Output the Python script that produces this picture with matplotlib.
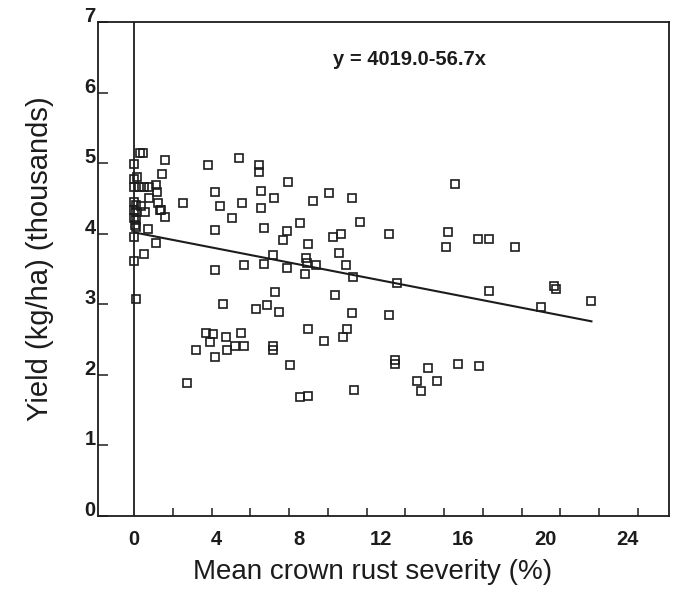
import matplotlib
matplotlib.use("Agg")
import matplotlib.pyplot as plt
import numpy as np

plt.rcParams['font.family'] = ['Liberation Sans', 'DejaVu Sans']

# mean crown rust severity (%) and yield (thousands kg/ha)
severity = [0.27, 0.41, 1.52, 0.00, 3.61, 5.10, 1.37, 0.14, 0.00, 0.00,
            0.23, 0.48, 0.72, 1.05, 3.92, 1.13, 0.72, 1.16, 2.37, 5.25,
            4.19, 0.00, 0.11, 0.35, 0.00, 0.11, 0.51, 1.24, 1.32, 1.50,
            4.78, 0.00, 0.07, 0.02, 0.11, 0.67, 3.92, 0.00, 1.08, 0.46,
            0.00, 3.92, 5.33, 0.11, 4.32, 3.48, 3.83, 4.49, 5.22, 3.71,
            2.99, 3.92, 4.54, 4.89, 5.33, 2.57, 6.07, 6.07, 7.50, 6.17,
            9.46, 6.80, 6.19, 8.70, 10.60, 6.29, 8.05, 7.41, 7.24, 10.97,
            9.67, 10.05, 12.38, 8.43, 6.75, 6.29, 7.41, 8.35, 8.41, 8.83,
            8.31, 9.95, 10.31, 10.62, 12.76, 6.84, 9.76, 5.91, 6.46, 7.05,
            10.60, 12.40, 8.44, 10.33, 10.16, 9.22, 6.75, 6.75, 12.68, 12.68,
            7.60, 8.05, 8.43, 10.70, 15.60, 15.24, 15.14, 16.73, 17.25, 18.53,
            17.24, 19.78, 20.41, 20.50, 22.23, 14.30, 13.73, 14.71, 13.93, 15.74,
            16.76]
yield_k = [5.14, 5.15, 5.05, 4.99, 4.98, 5.07, 4.84, 4.81, 4.77, 4.66,
           4.66, 4.66, 4.66, 4.69, 4.59, 4.59, 4.50, 4.43, 4.44, 4.44,
           4.39, 4.45, 4.41, 4.39, 4.33, 4.31, 4.31, 4.34, 4.33, 4.23,
           4.22, 4.22, 4.19, 4.12, 4.09, 4.06, 4.05, 3.96, 3.87, 3.71,
           3.61, 3.48, 3.56, 3.07, 3.01, 2.60, 2.58, 2.54, 2.60, 2.46,
           2.35, 2.25, 2.35, 2.41, 2.41, 1.89, 4.98, 4.87, 4.73, 4.61,
           4.57, 4.50, 4.36, 4.46, 4.51, 4.08, 4.15, 4.04, 3.91, 4.16,
           3.96, 3.99, 4.00, 3.85, 3.70, 3.57, 3.52, 3.66, 3.59, 3.56,
           3.43, 3.72, 3.55, 3.38, 3.30, 3.18, 3.13, 2.93, 2.99, 2.89,
           2.87, 2.85, 2.65, 2.65, 2.54, 2.48, 2.41, 2.35, 2.21, 2.16,
           2.14, 1.68, 1.70, 1.78, 4.70, 4.03, 3.81, 3.92, 3.93, 3.81,
           3.19, 2.96, 3.26, 3.22, 3.05, 2.10, 1.92, 1.91, 1.77, 2.16,
           2.12]

intercept = 4019.0
slope = -56.7
x_ticklabels = [0, 4, 8, 12, 16, 20, 24]
y_ticklabels = [0, 1, 2, 3, 4, 5, 6, 7]

ink = '#1c1c1c'

fig = plt.figure(figsize=(6.77, 5.90), dpi=100)
ax = fig.add_axes([98.3 / 677, 1 - 516 / 590, 570.7 / 677, 494 / 590])

ax.plot(severity, yield_k, linestyle='none', marker='s', markersize=6.3,
        markerfacecolor='none', markeredgecolor=ink, markeredgewidth=1.2)

xfit = np.array([0, max(severity)])
ax.plot(xfit, (intercept + slope * xfit) / 1000, color=ink, lw=1.5)
ax.axvline(0, color=ink, lw=1.3)

ax.set_xlim(-1.74, 26.0)
ax.set_ylim(0, 7)

for s in ax.spines.values():
    s.set_color(ink)
    s.set_linewidth(1.3)

ax.set_xticks(x_ticklabels)
ax.set_xticklabels([str(v) for v in x_ticklabels], fontsize=14.5, fontweight='bold')
ax.set_xticks(np.arange(1, 14) * 1.884, minor=True)
ax.tick_params(axis='x', which='major', length=0, pad=10, colors=ink)
ax.tick_params(axis='x', which='minor', direction='in', length=6, width=1.1, colors=ink)

ax.set_yticks(y_ticklabels)
ax.set_yticklabels([str(v) for v in y_ticklabels], fontsize=14.5, fontweight='bold')
ax.tick_params(axis='y', direction='in', length=7, width=1.1, pad=2, colors=ink)
for lab in ax.get_yticklabels():
    lab.set_verticalalignment('baseline')

ax.set_xlabel('Mean crown rust severity (%)', fontsize=20, color=ink)
ax.xaxis.set_label_coords(0.481, -0.113)
ax.xaxis.label.set_verticalalignment('center')
ax.set_ylabel('Yield (kg/ha) (thousands)', fontsize=21, color=ink)
ax.yaxis.set_label_coords(-0.102, 0.52)
ax.yaxis.label.set_verticalalignment('center')

ax.text(0.545, 0.925, 'y = 4019.0-56.7x', transform=ax.transAxes,
        ha='center', va='center', fontsize=14.5, fontweight='bold', color=ink)

fig.savefig('out.png', dpi=100)
